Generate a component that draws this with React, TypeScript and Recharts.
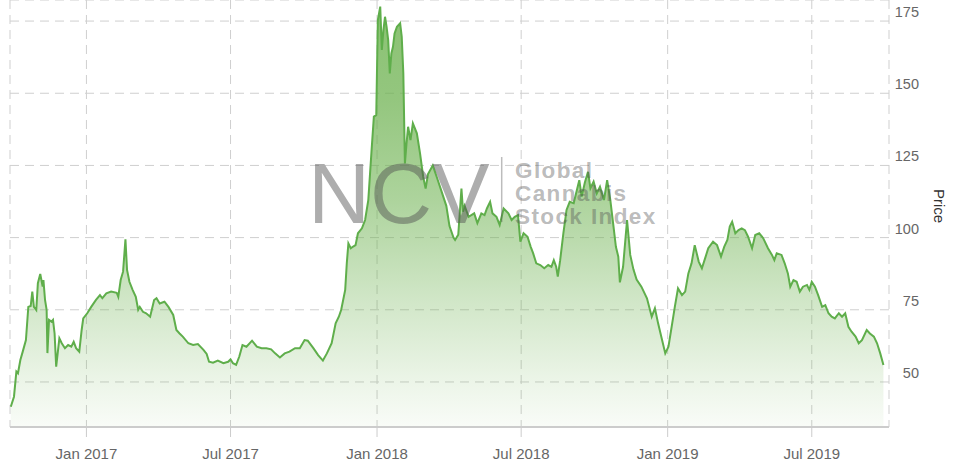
import React from "react";
import { AreaChart, Area, XAxis, YAxis, CartesianGrid, Label } from "recharts";

const dates = [
  "2016-09-28","2016-10-02","2016-10-05","2016-10-07","2016-10-10","2016-10-13","2016-10-17","2016-10-20","2016-10-23","2016-10-25",
  "2016-10-27","2016-10-30","2016-11-01","2016-11-04","2016-11-07","2016-11-08","2016-11-10","2016-11-12","2016-11-13","2016-11-15",
  "2016-11-18","2016-11-20","2016-11-22","2016-11-24","2016-11-28","2016-12-01","2016-12-05","2016-12-09","2016-12-13","2016-12-16",
  "2016-12-19","2016-12-23","2016-12-26","2016-12-28","2017-01-02","2017-01-07","2017-01-13","2017-01-18","2017-01-21","2017-01-26",
  "2017-02-01","2017-02-08","2017-02-10","2017-02-13","2017-02-16","2017-02-19","2017-02-21","2017-02-24","2017-02-28","2017-03-04",
  "2017-03-07","2017-03-09","2017-03-13","2017-03-17","2017-03-22","2017-03-27","2017-03-30","2017-04-03","2017-04-09","2017-04-14",
  "2017-04-20","2017-04-24","2017-04-28","2017-05-02","2017-05-09","2017-05-15","2017-05-21","2017-05-28","2017-06-01","2017-06-04",
  "2017-06-09","2017-06-15","2017-06-22","2017-06-28","2017-07-01","2017-07-04","2017-07-08","2017-07-12","2017-07-16","2017-07-21",
  "2017-07-28","2017-08-03","2017-08-09","2017-08-15","2017-08-21","2017-08-26","2017-09-01","2017-09-07","2017-09-13","2017-09-20",
  "2017-09-26","2017-10-02","2017-10-06","2017-10-13","2017-10-19","2017-10-25","2017-10-30","2017-11-05","2017-11-10","2017-11-14",
  "2017-11-17","2017-11-22","2017-11-24","2017-11-26","2017-11-29","2017-12-02","2017-12-05","2017-12-08","2017-12-13","2017-12-17",
  "2017-12-21","2017-12-25","2017-12-28","2017-12-31","2018-01-02","2018-01-05","2018-01-07","2018-01-09","2018-01-11","2018-01-13",
  "2018-01-15","2018-01-17","2018-01-19","2018-01-21","2018-01-23","2018-01-26","2018-01-30","2018-02-01","2018-02-03","2018-02-05",
  "2018-02-07","2018-02-09","2018-02-12","2018-02-15","2018-02-20","2018-02-24","2018-02-28","2018-03-03","2018-03-06","2018-03-12",
  "2018-03-17","2018-03-23","2018-03-29","2018-04-02","2018-04-07","2018-04-09","2018-04-13","2018-04-17","2018-04-19","2018-04-21",
  "2018-04-26","2018-05-03","2018-05-07","2018-05-12","2018-05-16","2018-05-19","2018-05-23","2018-05-26","2018-05-31","2018-06-04",
  "2018-06-09","2018-06-15","2018-06-19","2018-06-23","2018-06-27","2018-06-30","2018-07-04","2018-07-09","2018-07-13","2018-07-16",
  "2018-07-20","2018-07-25","2018-07-30","2018-08-04","2018-08-08","2018-08-11","2018-08-14","2018-08-16","2018-08-19","2018-08-23",
  "2018-08-27","2018-08-31","2018-09-05","2018-09-09","2018-09-12","2018-09-15","2018-09-19","2018-09-23","2018-09-26","2018-09-30",
  "2018-10-04","2018-10-08","2018-10-13","2018-10-17","2018-10-21","2018-10-25","2018-10-28","2018-10-31","2018-11-02","2018-11-06",
  "2018-11-11","2018-11-15","2018-11-19","2018-11-23","2018-11-29","2018-12-06","2018-12-12","2018-12-16","2018-12-20","2018-12-25",
  "2018-12-29","2019-01-02","2019-01-06","2019-01-10","2019-01-14","2019-01-19","2019-01-23","2019-01-27","2019-01-31","2019-02-04",
  "2019-02-09","2019-02-13","2019-02-17","2019-02-21","2019-02-27","2019-03-04","2019-03-09","2019-03-13","2019-03-17","2019-03-20",
  "2019-03-23","2019-03-27","2019-03-31","2019-04-04","2019-04-08","2019-04-12","2019-04-17","2019-04-21","2019-04-26","2019-05-01",
  "2019-05-07","2019-05-12","2019-05-15","2019-05-18","2019-05-24","2019-05-28","2019-06-01","2019-06-04","2019-06-08","2019-06-12",
  "2019-06-16","2019-06-20","2019-06-25","2019-06-28","2019-07-01","2019-07-05","2019-07-09","2019-07-14","2019-07-18","2019-07-22",
  "2019-07-26","2019-07-30","2019-08-04","2019-08-08","2019-08-12","2019-08-16","2019-08-20","2019-08-25","2019-08-29","2019-09-02",
  "2019-09-08","2019-09-12","2019-09-17","2019-09-21","2019-09-25","2019-09-29",
];

const prices = [
  41.4, 44.9, 53.6, 53.0, 57.6, 60.5, 64.5, 76.0, 76.3, 81.3,
  76.0, 74.9, 84.2, 87.4, 83.0, 85.3, 78.4, 75.0, 60.0, 71.5,
  70.9, 71.5, 66.8, 55.3, 65.1, 63.4, 61.7, 62.8, 62.2, 63.9,
  61.7, 60.5, 68.0, 72.0, 73.8, 76.0, 78.4, 80.1, 79.0, 80.7,
  81.3, 80.9, 79.5, 85.3, 88.2, 99.4, 88.8, 84.7, 81.9, 79.5,
  75.0, 76.0, 74.3, 73.8, 72.6, 78.4, 79.0, 77.2, 77.8, 76.0,
  73.2, 68.0, 66.8, 65.7, 63.4, 62.8, 63.1, 61.1, 59.7, 57.0,
  56.7, 57.4, 56.5, 57.0, 57.8, 56.5, 55.9, 58.8, 62.8, 62.2,
  64.3, 62.2, 61.7, 61.7, 61.3, 59.9, 58.5, 59.9, 60.5, 61.7,
  61.7, 64.5, 64.3, 61.7, 59.3, 57.4, 59.9, 63.4, 70.3, 72.6,
  75.0, 81.9, 91.1, 98.0, 96.3, 96.9, 97.4, 101.5, 103.2, 106.1,
  113.0, 129.7, 141.9, 142.4, 175.3, 180.0, 165.0, 171.9, 176.5, 173.0,
  168.4, 156.9, 163.8, 166.1, 170.7, 173.0, 174.2, 169.6, 156.9, 125.7,
  132.6, 138.4, 133.8, 139.6, 136.1, 129.2, 121.0, 117.0, 122.0, 125.0,
  121.0, 116.0, 111.0, 104.0, 100.0, 99.2, 101.0, 117.0, 109.0, 111.0,
  107.2, 108.4, 105.0, 108.4, 107.8, 110.1, 112.4, 108.4, 107.2, 104.4,
  110.1, 108.4, 106.1, 107.2, 107.8, 98.6, 101.5, 100.3, 96.8, 94.6,
  91.1, 90.5, 89.4, 90.5, 89.9, 92.2, 89.9, 86.5, 92.2, 101.5,
  109.6, 112.4, 111.9, 116.5, 119.9, 114.2, 119.1, 122.8, 117.1, 119.4,
  115.3, 117.6, 113.0, 119.9, 113.0, 103.8, 96.8, 93.4, 84.5, 89.9,
  106.1, 94.0, 89.0, 85.5, 83.0, 79.0, 72.6, 75.5, 70.3, 64.5,
  59.9, 62.2, 69.1, 76.0, 82.4, 80.1, 81.3, 87.6, 91.1, 97.4,
  91.7, 89.4, 92.8, 96.3, 98.6, 97.4, 93.4, 96.8, 99.2, 103.8,
  105.5, 101.5, 102.6, 103.2, 102.6, 100.3, 96.3, 100.9, 101.5, 99.8,
  96.3, 94.0, 92.2, 94.6, 94.0, 91.1, 87.6, 83.0, 85.3, 84.7,
  81.3, 83.0, 83.6, 81.9, 84.7, 83.0, 80.1, 76.0, 76.6, 73.8,
  72.6, 72.0, 73.8, 72.6, 73.8, 69.1, 67.4, 65.7, 63.4, 64.5,
  68.0, 66.8, 65.7, 63.4, 59.9, 55.9,
];

const xTickDates = ["2017-01-01", "2017-07-01", "2018-01-01", "2018-07-01", "2019-01-01", "2019-07-01"];
const xTickLabels = ["Jan 2017", "Jul 2017", "Jan 2018", "Jul 2018", "Jan 2019", "Jul 2019"];
const xDomainDates = ["2016-09-27", "2019-10-06"];
const yTicks = [50, 75, 100, 125, 150, 175];
const yDomain: [number, number] = [34.4, 182.3];

const toTs = (d: string) => Date.parse(d + "T00:00:00Z");
const data = dates.map((d, i) => ({ t: toTs(d), price: prices[i] }));
const xTicks = xTickDates.map(toTs);
const xDomain: [number, number] = [toTs(xDomainDates[0]), toTs(xDomainDates[1])];
const labelFor = (v: number) => {
  const i = xTicks.indexOf(v);
  return i >= 0 ? xTickLabels[i] : "";
};

const FONT = '"Liberation Sans", Arial, Helvetica, sans-serif';

const XTick = (props: any) => {
  const { x, payload } = props;
  return (
    <text x={x} y={459} textAnchor="middle" fill="#666" fontSize={15} fontFamily={FONT}>
      {labelFor(payload.value)}
    </text>
  );
};

const YTick = (props: any) => {
  const { y, payload } = props;
  return (
    <text x={919} y={y - 4} textAnchor="end" fill="#666" fontSize={14.5} fontFamily={FONT}>
      {payload.value}
    </text>
  );
};

const PriceLabel = () => (
  <text
    x={939}
    y={206}
    transform="rotate(90 939 206)"
    textAnchor="middle"
    dominantBaseline="central"
    fontSize={15}
    fill="#333"
    fontFamily={FONT}
  >
    Price
  </text>
);

export default function App() {
  return (
    <div style={{ position: "absolute", left: 0, top: 0, width: 958, height: 468, background: "#fff", overflow: "hidden" }}>
      <div style={{ position: "absolute", left: 0, top: 0 }}>
        <AreaChart width={958} height={468} data={data} margin={{ top: 0, right: 0, bottom: 0, left: 10 }}>
          <defs>
            <linearGradient id="priceFill" x1="0" y1="0" x2="0" y2="1">
              <stop offset="0" stopColor="#6ab04c" stopOpacity={0.78} />
              <stop offset="0.22" stopColor="#6ab04c" stopOpacity={0.72} />
              <stop offset="0.46" stopColor="#6ab04c" stopOpacity={0.55} />
              <stop offset="0.7" stopColor="#6ab04c" stopOpacity={0.31} />
              <stop offset="0.89" stopColor="#6ab04c" stopOpacity={0.13} />
              <stop offset="1" stopColor="#6ab04c" stopOpacity={0.04} />
            </linearGradient>
          </defs>
          <CartesianGrid stroke="#cfcfcf" strokeDasharray="9 6" />
          <XAxis
            dataKey="t"
            type="number"
            domain={xDomain}
            allowDataOverflow
            ticks={xTicks}
            height={41}
            axisLine={{ stroke: "#cccccc", strokeWidth: 2 }}
            tickLine={{ stroke: "#cccccc" }}
            tickSize={10}
            tick={XTick}
            interval={0}
          />
          <YAxis
            orientation="right"
            width={69}
            domain={yDomain}
            allowDataOverflow
            ticks={yTicks}
            axisLine={false}
            tickLine={false}
            tick={YTick}
            interval={0}
          >
            <Label content={PriceLabel} />
          </YAxis>
          <Area
            type="linear"
            dataKey="price"
            stroke="#5fae4b"
            strokeWidth={2}
            fill="url(#priceFill)"
            fillOpacity={1}
            dot={false}
            activeDot={false}
            isAnimationActive={false}
          />
        </AreaChart>
      </div>
      <svg width={958} height={468} style={{ position: "absolute", left: 0, top: 0, pointerEvents: "none" }}>
        <text x={308} y={222.7} fontSize={86} fontFamily={FONT} fill="rgb(80,80,80)" fillOpacity={0.47}>NCV</text>
        <line x1={501.7} y1={157} x2={501.7} y2={222} stroke="rgb(80,80,80)" strokeOpacity={0.38} strokeWidth={1.5} />
        <text fontSize={22.5} fontFamily={FONT} fill="rgb(80,80,80)" fillOpacity={0.4} letterSpacing={1.4} fontWeight={600}>
          <tspan x={515} y={177.5}>Global</tspan>
          <tspan x={515} y={201}>Cannabis</tspan>
          <tspan x={515} y={224}>Stock Index</tspan>
        </text>
      </svg>
    </div>
  );
}
